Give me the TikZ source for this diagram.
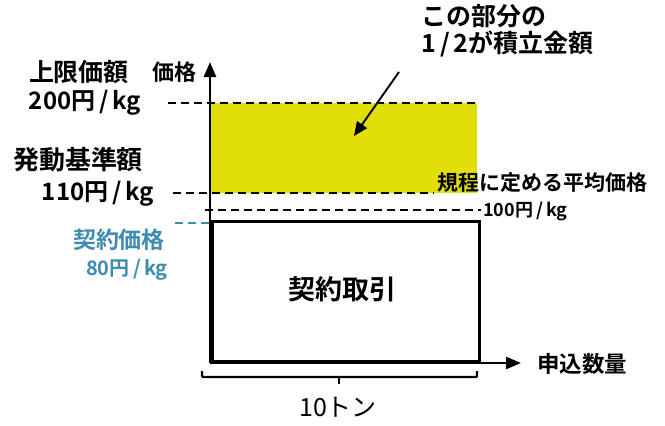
\documentclass[tikz,border=0pt]{standalone}
\usepackage{fontspec}
\setmainfont{Noto Sans CJK JP}[BoldFont={Noto Sans CJK JP Bold}]
\usetikzlibrary{arrows.meta}
\definecolor{fillyellow}{RGB}{226,222,8}
\definecolor{contractblue}{RGB}{62,140,178}
\newcommand{\myslash}{\,/\,}
\tikzset{
  axisline/.style={line width=2.6pt,-{Triangle[length=15pt,width=12pt]}},
  dashline/.style={line width=2.8pt,dash pattern=on 8pt off 5pt},
  tbox/.style={inner sep=0pt,text height=0.8em,text depth=0.1em},
  lbl/.style={tbox,font=\bfseries\fontsize{26}{28}\selectfont},
  num/.style={tbox,font=\bfseries\fontsize{24}{26}\selectfont}
}
\begin{document}
\begin{tikzpicture}[x=1pt,y=-1pt]
\useasboundingbox (0,0) rectangle (665,426);
% coordinates
\coordinate (O) at (210,363);
\coordinate (ytip) at (210,62);
\coordinate (xtip) at (521,363);
% yellow region
\fill[fillyellow] (211,103) rectangle (477,193);
% dashed lines
\coordinate (d200a) at (168,103); \coordinate (d200b) at (477,103);
\coordinate (d110a) at (173,193); \coordinate (d110b) at (434,193);
\coordinate (d100a) at (205,210); \coordinate (d100b) at (481,210);
\coordinate (d80a) at (175,223); \coordinate (d80b) at (210,223);
\draw[dashline] (d200a) -- (d200b);
\draw[dashline] (d110a) -- (d110b);
\draw[dashline] (d100a) -- (d100b);
\draw[dashline,contractblue] (d80a) -- (d80b);
% contract box
\node[draw,line width=3.2pt,minimum width=267pt,minimum height=140pt,anchor=south west,inner sep=0pt] (box) at (210.5,363) {};
\node[lbl,font=\bfseries\fontsize{27}{29}\selectfont] (keiyaku) at (342,296) {契約取引};
% axes
\draw[axisline] (O) -- (ytip);
\draw[axisline] (O) -- (xtip);
% brace
\coordinate (brL) at (202,371);
\coordinate (brR) at (477,371);
\coordinate (brM) at (339,377);
\coordinate (brT) at (339,384);
\draw[line width=2.4pt,rounded corners=1pt] (brL) -- (202,377) -- (477,377) -- (brR);
\draw[line width=2.4pt] (brM) -- (brT);
% labels
\node[lbl,font=\bfseries\fontsize{22}{24}\selectfont] (kakaku) at (174,77) {価格};
\node[lbl,font=\bfseries\fontsize{25}{27}\selectfont] (jogen) at (79,78) {上限価額};
\node[num] (n200) at (85,106) {200円\myslash kg};
\node[lbl] (hatsudo) at (78,166) {発動基準額};
\node[num] (n110) at (98,197) {110円\myslash kg};
\node[lbl,text=contractblue,font=\bfseries\fontsize{23}{25}\selectfont] (keiyakukakaku) at (119,245) {契約価格};
\node[tbox,text=contractblue,font=\bfseries\fontsize{20}{22}\selectfont] (n80) at (127,272) {80円\myslash kg};
\node[lbl,font=\bfseries\fontsize{21}{23}\selectfont,anchor=west] (kitei) at (437,187) {規程に定める平均価格};
\node[tbox,font=\bfseries\fontsize{18}{20}\selectfont,anchor=west] (n100) at (483,213) {100円\myslash kg};
\node[lbl,font=\bfseries\fontsize{22.5}{24}\selectfont] (moshikomi) at (582,369) {申込数量};
\node[tbox,font=\fontsize{25}{27}\selectfont] (ton) at (338,413) {10トン};
\node[lbl,font=\bfseries\fontsize{25}{27}\selectfont,anchor=west] (kono) at (421,22) {この部分の};
\node[lbl,font=\bfseries\fontsize{25}{27}\selectfont,anchor=west] (half) at (421,49) {1\myslash 2が積立金額};
% pointer arrow
\coordinate (pa) at (399,72);
\coordinate (pb) at (354,136);
\draw[line width=1.9pt,-{Triangle[length=14pt,width=12pt]}] (pa) -- (pb);
\end{tikzpicture}
\end{document}
